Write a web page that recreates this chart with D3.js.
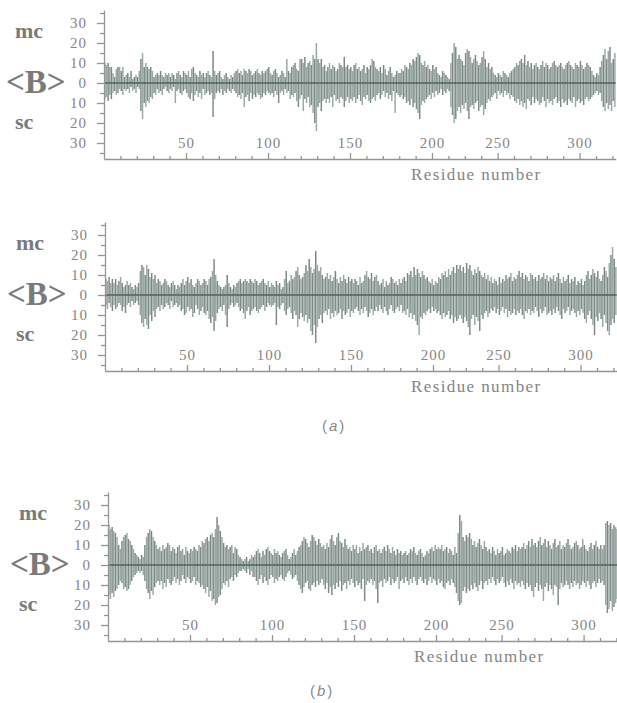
<!DOCTYPE html>
<html>
<head>
<meta charset="utf-8">
<script src="https://cdn.jsdelivr.net/npm/d3@7"></script>
<style>
  body { margin: 0; background: #fff; }
  svg { display: block; }
</style>
</head>
<body>
<svg id="chart" width="617" height="703"></svg>
<script>
// <B> per residue, main chain (up) and side chain (down)
const aMc = [
  10, 9, 10, 8, 8, 5, 3, 7, 8, 8, 6, 8, 3, 4, 5, 3, 6, 2, 3, 4,
  3, 6, 12, 15, 8, 10, 8, 7, 8, 6, 3, 4, 5, 4, 6, 4, 3, 5, 4, 5,
  3, 5, 4, 2, 5, 6, 4, 3, 6, 5, 4, 6, 3, 7, 8, 5, 4, 3, 6, 4,
  5, 3, 5, 6, 4, 3, 16, 6, 4, 5, 6, 3, 2, 4, 5, 3, 2, 4, 3, 5,
  6, 7, 5, 6, 4, 7, 6, 5, 7, 6, 4, 5, 6, 7, 5, 4, 6, 5, 6, 7,
  8, 5, 4, 6, 7, 5, 3, 4, 6, 5, 3, 12, 6, 5, 8, 9, 10, 7, 6, 12,
  12, 10, 13, 8, 10, 11, 9, 14, 12, 20, 12, 10, 12, 8, 9, 6, 8, 10, 7, 9,
  8, 6, 7, 10, 9, 8, 13, 8, 9, 7, 8, 6, 9, 10, 7, 8, 6, 7, 9, 5,
  8, 7, 9, 12, 11, 8, 7, 6, 8, 5, 9, 7, 4, 6, 8, 5, 3, 4, 6, 5,
  5, 7, 6, 9, 8, 7, 10, 9, 12, 11, 13, 15, 14, 10, 9, 11, 8, 9, 7, 6,
  9, 7, 8, 5, 4, 3, 6, 5, 4, 3, 2, 10, 15, 20, 18, 12, 14, 12, 11, 9,
  15, 17, 16, 13, 10, 12, 14, 11, 9, 10, 13, 16, 12, 8, 10, 7, 8, 5, 4, 3,
  5, 4, 3, 6, 5, 4, 3, 5, 6, 7, 8, 10, 9, 11, 12, 10, 14, 9, 11, 8,
  10, 7, 9, 10, 8, 7, 9, 11, 8, 10, 9, 7, 8, 10, 11, 9, 8, 9, 10, 8,
  7, 9, 10, 11, 9, 8, 7, 10, 9, 8, 11, 9, 7, 8, 10, 9, 8, 6, 4, 3,
  5, 4, 8, 11, 14, 17, 12, 16, 18, 10, 12, 15
];
const aSc = [
  8, 7, 9, 6, 8, 5, 4, 6, 5, 3, 4, 6, 3, 4, 3, 5, 2, 4, 3, 5,
  2, 3, 14, 18, 10, 12, 9, 10, 7, 8, 5, 6, 3, 5, 4, 6, 3, 2, 4, 5,
  3, 4, 2, 10, 4, 3, 5, 6, 4, 3, 5, 7, 8, 5, 9, 6, 4, 7, 5, 8,
  3, 6, 5, 4, 6, 5, 17, 8, 5, 4, 5, 3, 6, 4, 5, 3, 4, 5, 3, 4,
  5, 7, 6, 8, 5, 12, 7, 6, 9, 5, 8, 6, 7, 5, 6, 8, 7, 5, 6, 4,
  5, 6, 5, 7, 4, 6, 10, 5, 4, 6, 3, 5, 4, 8, 6, 7, 5, 9, 12, 8,
  6, 14, 8, 10, 7, 12, 11, 15, 20, 24, 12, 10, 14, 9, 8, 10, 8, 10, 7, 12,
  6, 9, 8, 10, 7, 8, 12, 9, 7, 10, 8, 9, 7, 10, 8, 6, 9, 11, 7, 8,
  6, 9, 10, 8, 7, 9, 6, 5, 8, 6, 4, 7, 5, 8, 6, 9, 4, 15, 5, 6,
  7, 6, 8, 7, 10, 9, 11, 8, 12, 10, 13, 15, 18, 11, 9, 10, 8, 7, 6, 8,
  5, 7, 4, 6, 5, 3, 6, 4, 5, 3, 4, 12, 16, 20, 18, 14, 12, 15, 11, 13,
  10, 14, 18, 12, 11, 13, 10, 9, 14, 12, 11, 16, 13, 10, 8, 9, 7, 6, 5, 8,
  4, 6, 5, 7, 4, 6, 5, 8, 6, 7, 9, 10, 8, 11, 9, 12, 10, 13, 8, 9,
  11, 7, 10, 8, 9, 11, 10, 7, 9, 12, 8, 10, 9, 11, 8, 7, 10, 9, 12, 8,
  10, 9, 11, 8, 9, 10, 7, 12, 9, 8, 10, 9, 11, 8, 7, 9, 8, 7, 6, 5,
  4, 6, 5, 9, 12, 14, 10, 13, 11, 14, 9, 12
];
const bMc = [
  8, 7, 9, 6, 8, 6, 8, 5, 7, 9, 6, 4, 5, 7, 5, 6, 4, 3, 5, 4,
  6, 12, 15, 14, 10, 15, 13, 9, 11, 8, 10, 6, 8, 7, 5, 6, 8, 7, 5, 4,
  6, 7, 5, 3, 5, 4, 6, 8, 5, 7, 9, 6, 8, 5, 4, 6, 8, 7, 5, 6,
  8, 7, 5, 8, 9, 12, 18, 10, 7, 5, 4, 3, 4, 5, 10, 6, 4, 3, 5, 4,
  6, 7, 8, 6, 7, 8, 7, 6, 8, 7, 6, 8, 7, 5, 6, 7, 8, 6, 5, 7,
  4, 6, 5, 4, 7, 5, 6, 3, 4, 8, 12, 6, 7, 10, 8, 9, 12, 14, 10, 8,
  9, 11, 15, 12, 18, 14, 11, 13, 22, 15, 12, 14, 10, 8, 9, 11, 8, 10, 7, 9,
  12, 8, 6, 9, 7, 10, 8, 6, 9, 7, 8, 6, 8, 7, 5, 9, 6, 7, 10, 12,
  9, 8, 11, 7, 9, 10, 7, 5, 6, 8, 4, 7, 5, 6, 9, 8, 6, 7, 5, 8,
  6, 8, 9, 7, 11, 10, 12, 9, 14, 10, 13, 11, 9, 12, 10, 8, 9, 7, 6, 8,
  5, 7, 6, 9, 8, 11, 10, 12, 9, 13, 10, 12, 14, 11, 15, 13, 15, 12, 14, 11,
  16, 13, 15, 12, 10, 13, 11, 14, 12, 10, 9, 11, 8, 10, 7, 9, 6, 8, 7, 5,
  9, 6, 8, 7, 10, 8, 9, 11, 7, 9, 8, 10, 12, 9, 11, 8, 10, 9, 7, 11,
  10, 8, 9, 7, 10, 8, 9, 11, 8, 10, 7, 9, 8, 10, 7, 9, 11, 8, 6, 9,
  7, 8, 10, 6, 8, 7, 9, 5, 7, 6, 8, 5, 7, 10, 12, 8, 10, 13, 11, 9,
  12, 8, 7, 10, 14, 12, 9, 16, 20, 24, 18, 14
];
const bSc = [
  5, 7, 4, 6, 8, 5, 7, 6, 4, 5, 8, 6, 9, 5, 4, 6, 3, 5, 4, 3,
  5, 10, 14, 16, 12, 15, 17, 10, 13, 8, 11, 7, 6, 8, 5, 7, 6, 4, 5, 7,
  3, 6, 5, 4, 6, 5, 8, 7, 10, 9, 6, 8, 7, 11, 9, 5, 7, 10, 8, 6,
  9, 10, 8, 12, 14, 11, 18, 13, 9, 7, 6, 8, 5, 10, 16, 7, 5, 4, 6, 5,
  4, 6, 8, 7, 9, 12, 8, 6, 10, 8, 7, 6, 8, 9, 7, 6, 5, 8, 6, 4,
  5, 6, 5, 4, 15, 6, 7, 5, 4, 8, 10, 7, 6, 9, 12, 8, 10, 16, 12, 9,
  11, 13, 10, 14, 12, 18, 20, 15, 24, 16, 12, 10, 14, 9, 8, 10, 7, 12, 9, 11,
  8, 10, 9, 7, 12, 8, 10, 9, 7, 11, 8, 9, 7, 6, 8, 10, 7, 9, 6, 8,
  11, 9, 7, 10, 8, 6, 8, 5, 7, 9, 6, 8, 10, 7, 5, 8, 9, 7, 6, 8,
  5, 9, 8, 10, 7, 11, 9, 12, 10, 13, 15, 20, 11, 12, 9, 10, 8, 7, 9, 6,
  8, 7, 9, 8, 10, 12, 9, 11, 10, 8, 12, 10, 14, 11, 13, 12, 10, 12, 14, 11,
  13, 16, 20, 12, 10, 15, 11, 13, 18, 10, 12, 9, 8, 11, 9, 7, 8, 6, 9, 7,
  10, 8, 6, 9, 7, 11, 8, 10, 9, 7, 10, 8, 9, 7, 10, 12, 8, 9, 7, 10,
  8, 9, 6, 8, 11, 7, 9, 8, 6, 10, 9, 8, 10, 7, 9, 6, 8, 10, 12, 7,
  9, 8, 6, 10, 8, 7, 9, 11, 8, 10, 7, 9, 12, 14, 10, 8, 12, 15, 20, 11,
  13, 9, 12, 16, 10, 14, 18, 20, 15, 12, 14, 10
];
const cMc = [
  20, 18, 19, 17, 16, 14, 10, 8, 12, 14, 15, 16, 13, 12, 10, 8, 6, 5, 4, 3,
  5, 4, 10, 14, 16, 18, 17, 14, 12, 10, 8, 9, 7, 10, 8, 9, 11, 10, 7, 9,
  8, 6, 9, 10, 7, 8, 5, 9, 7, 6, 8, 7, 9, 8, 7, 10, 9, 12, 11, 13,
  14, 12, 15, 16, 14, 18, 24, 20, 17, 14, 11, 9, 10, 8, 9, 10, 6, 9, 8, 5,
  4, 3, 2, 3, 4, 2, 3, 5, 4, 5, 7, 8, 6, 4, 7, 5, 8, 9, 7, 6,
  5, 8, 6, 7, 5, 4, 6, 7, 8, 5, 3, 4, 6, 8, 5, 7, 9, 10, 12, 14,
  13, 11, 9, 12, 15, 14, 12, 10, 13, 11, 9, 10, 8, 11, 9, 13, 15, 12, 10, 14,
  16, 12, 11, 9, 13, 10, 8, 9, 7, 10, 8, 10, 6, 9, 7, 11, 8, 9, 10, 7,
  8, 6, 9, 10, 7, 8, 6, 8, 9, 7, 10, 8, 6, 9, 7, 5, 8, 6, 7, 5,
  6, 7, 5, 6, 8, 7, 9, 6, 5, 7, 8, 6, 4, 5, 7, 6, 8, 9, 7, 10,
  8, 9, 8, 10, 7, 8, 9, 6, 8, 7, 5, 9, 6, 16, 25, 22, 14, 12, 15, 14,
  16, 13, 10, 12, 9, 11, 13, 10, 8, 12, 9, 7, 8, 6, 9, 7, 5, 8, 6, 7,
  9, 5, 6, 8, 7, 6, 9, 8, 10, 7, 9, 8, 9, 11, 8, 10, 12, 9, 13, 10,
  11, 9, 12, 14, 10, 11, 13, 9, 12, 10, 8, 11, 13, 9, 10, 12, 8, 10, 9, 11,
  13, 10, 8, 9, 11, 12, 10, 8, 9, 13, 10, 8, 7, 9, 11, 8, 10, 12, 9, 8,
  10, 8, 10, 21, 22, 20, 21, 18, 20, 19, 18, 20
];
const cSc = [
  15, 17, 14, 16, 13, 12, 10, 8, 9, 12, 11, 13, 12, 10, 8, 6, 5, 4, 3, 4,
  3, 5, 8, 12, 14, 17, 13, 15, 11, 9, 8, 10, 8, 12, 9, 11, 7, 9, 10, 8,
  6, 9, 7, 10, 8, 5, 7, 9, 6, 7, 9, 8, 6, 10, 8, 9, 11, 10, 12, 14,
  11, 16, 13, 18, 17, 20, 19, 16, 15, 12, 9, 10, 8, 11, 7, 6, 8, 5, 6, 4,
  3, 3, 2, 3, 4, 2, 5, 3, 6, 6, 8, 10, 7, 5, 9, 6, 8, 10, 7, 5,
  6, 9, 7, 8, 6, 5, 7, 8, 6, 4, 3, 5, 7, 6, 5, 8, 10, 12, 14, 11,
  9, 8, 12, 13, 10, 9, 11, 8, 10, 9, 7, 10, 12, 9, 14, 11, 15, 10, 12, 9,
  11, 8, 13, 10, 9, 12, 8, 10, 7, 9, 11, 8, 10, 9, 12, 7, 18, 10, 8, 9,
  7, 10, 8, 12, 19, 9, 8, 11, 7, 9, 8, 6, 10, 7, 9, 8, 6, 12, 8, 7,
  9, 6, 8, 10, 7, 9, 6, 8, 10, 7, 6, 8, 9, 7, 10, 8, 6, 9, 7, 8,
  10, 7, 9, 8, 11, 12, 9, 8, 10, 7, 9, 11, 14, 18, 20, 19, 13, 11, 14, 12,
  13, 10, 12, 9, 11, 13, 10, 8, 12, 9, 8, 10, 7, 9, 6, 8, 10, 7, 9, 8,
  6, 9, 11, 8, 10, 7, 9, 12, 8, 10, 9, 11, 8, 10, 12, 9, 11, 10, 13, 16,
  11, 9, 13, 10, 12, 18, 11, 9, 13, 10, 12, 15, 10, 11, 20, 12, 9, 11, 10, 8,
  10, 12, 9, 11, 8, 10, 9, 12, 10, 8, 9, 11, 8, 10, 12, 9, 8, 11, 9, 7,
  9, 8, 10, 20, 24, 22, 18, 23, 21, 19, 17, 22
];

// axis labels: the residue numbering skips after 200, so labels sit on sequence positions
const xTickIndex = [50, 100, 150, 200, 240, 290];
const xTickLabels = ['50', '100', '150', '200', '250', '300'];
const yTicks = [30, 20, 10, 0, -10, -20, -30];

const svg = d3.select('#chart');
const serif = '"Liberation Serif", "DejaVu Serif", serif';
const axisColor = '#959595';
const textColor = '#858585';

const panels = [
  { mc: aMc, sc: aSc, left: 104, zero: 83, labelX: 411 },
  { mc: bMc, sc: bSc, left: 105, zero: 295, labelX: 411 },
  { mc: cMc, sc: cSc, left: 108, zero: 565, labelX: 414 }
];

function drawPanel (p) {
  const g = svg.append('g');
  const x = d3.scaleLinear().domain([0, 312]).range([p.left, p.left + 312 * 1.64]);
  const y = d3.scaleLinear().domain([-38, 36.5]).range([p.zero + 76, p.zero - 73]);
  const bw = (x(1) - x(0)) * 0.9;

  // mc bars above, sc bars below
  g.append('g')
    .selectAll('rect.mc')
    .data(p.mc)
    .enter()
    .append('rect')
    .attr('class', 'mc')
    .attr('x', (d, i) => x(i + 0.5) - bw / 2)
    .attr('y', d => y(d))
    .attr('width', bw)
    .attr('height', d => y(0) - y(d))
    .attr('fill', (d, i) => i % 2 ? '#9aa7a3' : '#7a8985');

  g.append('g')
    .selectAll('rect.sc')
    .data(p.sc)
    .enter()
    .append('rect')
    .attr('class', 'sc')
    .attr('x', (d, i) => x(i + 0.5) - bw / 2)
    .attr('y', y(0))
    .attr('width', bw)
    .attr('height', d => y(-d) - y(0))
    .attr('fill', (d, i) => i % 2 ? '#9caaa5' : '#7d8c88');

  g.append('line')
    .attr('x1', x(0))
    .attr('x2', x(312))
    .attr('y1', y(0))
    .attr('y2', y(0))
    .attr('stroke', '#53625e')
    .attr('stroke-width', 1.6);

  // y axis, major + minor ticks
  const yAxis = g.append('g')
    .attr('transform', `translate(${x(0)},0)`)
    .call(d3.axisLeft(y).tickValues(yTicks).tickSize(7).tickSizeOuter(0).tickPadding(10)
      .tickFormat(d => Math.abs(d)));
  g.append('g')
    .attr('transform', `translate(${x(0)},0)`)
    .call(d3.axisLeft(y).tickValues([35, 25, 15, 5, -5, -15, -25, -35]).tickSize(4)
      .tickSizeOuter(0).tickFormat(''))
    .select('.domain').remove();

  // x axis along the bottom, ticks pointing up
  const xAxis = g.append('g')
    .attr('transform', `translate(0,${y(-38)})`)
    .call(d3.axisTop(x).tickValues(xTickIndex).tickSize(6).tickSizeOuter(0).tickPadding(5)
      .tickFormat((d, i) => xTickLabels[i]));
  g.append('g')
    .attr('transform', `translate(0,${y(-38)})`)
    .call(d3.axisTop(x).tickValues(d3.range(10, 312, 10).filter(v => !xTickIndex.includes(v)))
      .tickSize(3).tickSizeOuter(0).tickFormat(''))
    .select('.domain').remove();

  g.selectAll('.domain, .tick line')
    .attr('stroke', axisColor)
    .attr('stroke-width', 1.3);
  [yAxis, xAxis].forEach(a => a.selectAll('text')
    .attr('fill', textColor)
    .style('font-family', serif)
    .style('font-size', '15px')
    .style('letter-spacing', '1px'));

  g.append('text')
    .attr('x', p.labelX)
    .attr('y', y(-38) + 21)
    .text('Residue number')
    .attr('fill', textColor)
    .style('font-family', serif)
    .style('font-size', '17px')
    .style('letter-spacing', '1.4px');

  // side labels
  const side = [
    { t: 'mc', dy: -45, size: 22, dx: 15 },
    { t: '<B>', dy: 10, size: 33, dx: 6 },
    { t: 'sc', dy: 46, size: 22, dx: 15 }
  ];
  g.selectAll('text.side')
    .data(side)
    .enter()
    .append('text')
    .attr('class', 'side')
    .attr('x', d => p.left - 104 + d.dx)
    .attr('y', d => p.zero + d.dy)
    .text(d => d.t)
    .attr('fill', '#7a7a7a')
    .style('font-family', serif)
    .style('font-weight', 'bold')
    .style('font-size', d => d.size + 'px');
}

panels.forEach(drawPanel);

// sub-figure captions
const tags = [{ t: 'a', x: 322, y: 431 }, { t: 'b', x: 310, y: 696 }];
tags.forEach(c => {
  const t = svg.append('text')
    .attr('x', c.x)
    .attr('y', c.y)
    .attr('fill', '#8a8a8a')
    .style('font-family', '"Liberation Sans", sans-serif')
    .style('font-size', '15px');
  t.append('tspan').text('(');
  t.append('tspan').text(c.t).style('font-style', 'italic').attr('dx', 2);
  t.append('tspan').text(')').attr('dx', 2);
});
</script>
</body>
</html>
